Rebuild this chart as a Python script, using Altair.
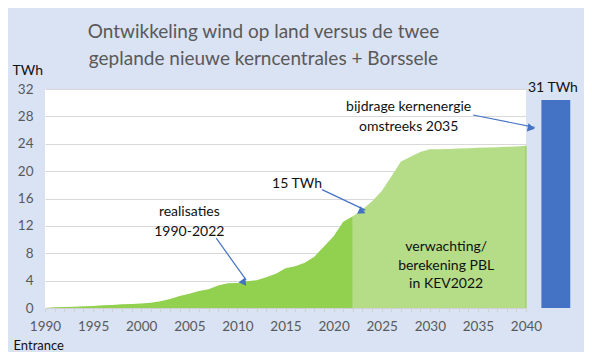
import math
import altair as alt
import pandas as pd

# --- data ---
real_years = list(range(1990, 2023))
real_twh = [0.0, 0.1, 0.15, 0.2, 0.25, 0.3, 0.4, 0.45, 0.55, 0.6, 0.65, 0.75, 1.0,
            1.3, 1.75, 2.1, 2.5, 2.75, 3.3, 3.6, 3.65, 3.9, 4.05, 4.5, 5.0, 5.8,
            6.1, 6.6, 7.5, 9.0, 10.5, 12.6, 13.4]
fc_years = list(range(2022, 2041))
fc_twh = [13.4, 14.4, 15.6, 17.1, 19.2, 21.4, 22.1, 22.8, 23.2, 23.2, 23.25, 23.3,
          23.35, 23.4, 23.45, 23.5, 23.55, 23.6, 23.7]
nuclear_label = ["31 TWh"]
nuclear_twh = [30.4]
nuclear_x = [2041.6]
nuclear_x2 = [2044.6]

ann_text = ["realisaties", "1990-2022", "15 TWh", "bijdrage kernenergie",
            "omstreeks 2035", "verwachting/", "berekening PBL", "in KEV2022", "31 TWh"]
ann_x = [2005.0, 2005.0, 2016.2, 2027.8, 2027.8, 2031.7, 2031.7, 2031.7, 2042.8]
ann_y = [14.0, 11.1, 18.1, 29.3, 26.5, 8.9, 6.15, 3.55, 32.2]

arrow_x = [2007.8, 2018.8, 2034.5]
arrow_y = [10.2, 17.3, 28.2]
arrow_x2 = [2010.9, 2023.3, 2040.9]
arrow_y2 = [4.1, 14.3, 26.4]

W, H = 481, 219
XMIN, XMAX, YMAX = 1990, 2040, 32
pxx = W / (XMAX - XMIN)
pxy = H / YMAX

real = pd.DataFrame({"year": real_years, "twh": real_twh})
fc = pd.DataFrame({"year": fc_years, "twh": fc_twh})
bar = pd.DataFrame({"x": nuclear_x, "x2": nuclear_x2, "twh": nuclear_twh})
ann = pd.DataFrame({"t": ann_text, "x": ann_x, "y": ann_y})
arrows = pd.DataFrame({"x": arrow_x, "y": arrow_y, "x2": arrow_x2, "y2": arrow_y2})
arrows["angle"] = [
    (math.degrees(math.atan2((b - a) * pxx, (d - c) * pxy)) + 360) % 360
    for a, b, c, d in zip(arrow_x, arrow_x2, arrow_y, arrow_y2)
]
# arrowhead centre slightly behind the tip
arrows["hx"] = [b - 3.5 * math.sin(math.radians(g)) / pxx for b, g in zip(arrow_x2, arrows["angle"])]
arrows["hy"] = [d + 3.5 * math.cos(math.radians(g)) / pxy for d, g in zip(arrow_y2, arrows["angle"])]

FONT = "Lato"
xs = alt.Scale(domain=[XMIN, XMAX], nice=False, zero=False)
ys = alt.Scale(domain=[0, YMAX], nice=False)

x_axis = alt.Axis(
    values=list(range(1990, 2041)),
    labelExpr="datum.value % 5 == 0 ? datum.value : ''",
    labelOverlap=False, labelFlush=False, grid=False,
    tickColor="#D0D0D0", tickSize=4, domainColor="#D0D0D0",
    labelColor="#595959", labelFontSize=13.5, labelFont=FONT, labelPadding=7,
    title="Entrance", titleFont=FONT, titleFontSize=13, titleFontWeight="normal",
    titleColor="#111111", titleAngle=0, titleAlign="left", titleBaseline="middle",
    titleX=-32, titleY=37,
)
y_axis = alt.Axis(
    values=list(range(0, 33, 4)), grid=True, gridColor="#D9D9D9", domain=False,
    ticks=False, labelColor="#595959", labelFontSize=13.5, labelFont=FONT,
    labelPadding=12, labelOverlap=False,
    title="TWh", titleFont=FONT, titleFontSize=14, titleFontWeight="normal",
    titleColor="#111111", titleAngle=0, titleAlign="left", titleBaseline="middle",
    titleX=-33, titleY=-19,
)


def X(field):
    return alt.X(field, scale=xs, axis=x_axis)


def Y(field):
    return alt.Y(field, scale=ys, axis=y_axis)


area_real = alt.Chart(real).mark_area(color="#92D050", opacity=1).encode(
    x=X("year:Q"), y=Y("twh:Q"),
)
area_fc = alt.Chart(fc).mark_area(color="#B5DD87", opacity=1).encode(
    x=X("year:Q"), y=Y("twh:Q")
)
edge = alt.Chart(fc.tail(1)).mark_rule(color="#92C850", strokeWidth=1).encode(
    x=X("year:Q"), y=Y("twh:Q"), y2=alt.datum(0)
)
bars = alt.Chart(bar).mark_rect(color="#4472C4").encode(
    x=X("x:Q"), x2="x2:Q", y=Y("twh:Q"), y2=alt.datum(0)
)
texts = alt.Chart(ann).mark_text(font=FONT, fontSize=14, color="#111111",
                                 baseline="middle", align="center").encode(
    x=X("x:Q"), y=Y("y:Q"), text="t:N"
)
arrow_lines = alt.Chart(arrows).mark_rule(color="#4472C4", strokeWidth=1.2).encode(
    x=X("x:Q"), y=Y("y:Q"), x2="x2:Q", y2="y2:Q"
)
heads = alt.Chart(arrows).mark_point(shape="triangle-up", filled=True, size=70,
                                     color="#4472C4", opacity=1).encode(
    x=X("hx:Q"), y=Y("hy:Q"), angle=alt.Angle("angle:Q", scale=None)
)

chart = alt.layer(area_real, area_fc, edge, bars, arrow_lines, heads, texts).properties(
    width=W, height=H,
    autosize=alt.AutoSizeParams(type="none"),
    padding={"left": 37, "top": 81, "right": 58, "bottom": 44},
    background="#DAE3F3",
    title=alt.TitleParams(
        text=["Ontwikkeling wind op land versus de twee",
              "geplande nieuwe kerncentrales + Borssele"],
        font=FONT, fontSize=19, fontWeight="normal", color="#595959",
        anchor="middle", dx=-22, offset=-6, lineHeight=27,
    ),
).configure_view(fill="white", stroke=None)

chart.save("out.html", embed_options={"renderer": "svg", "actions": False})
